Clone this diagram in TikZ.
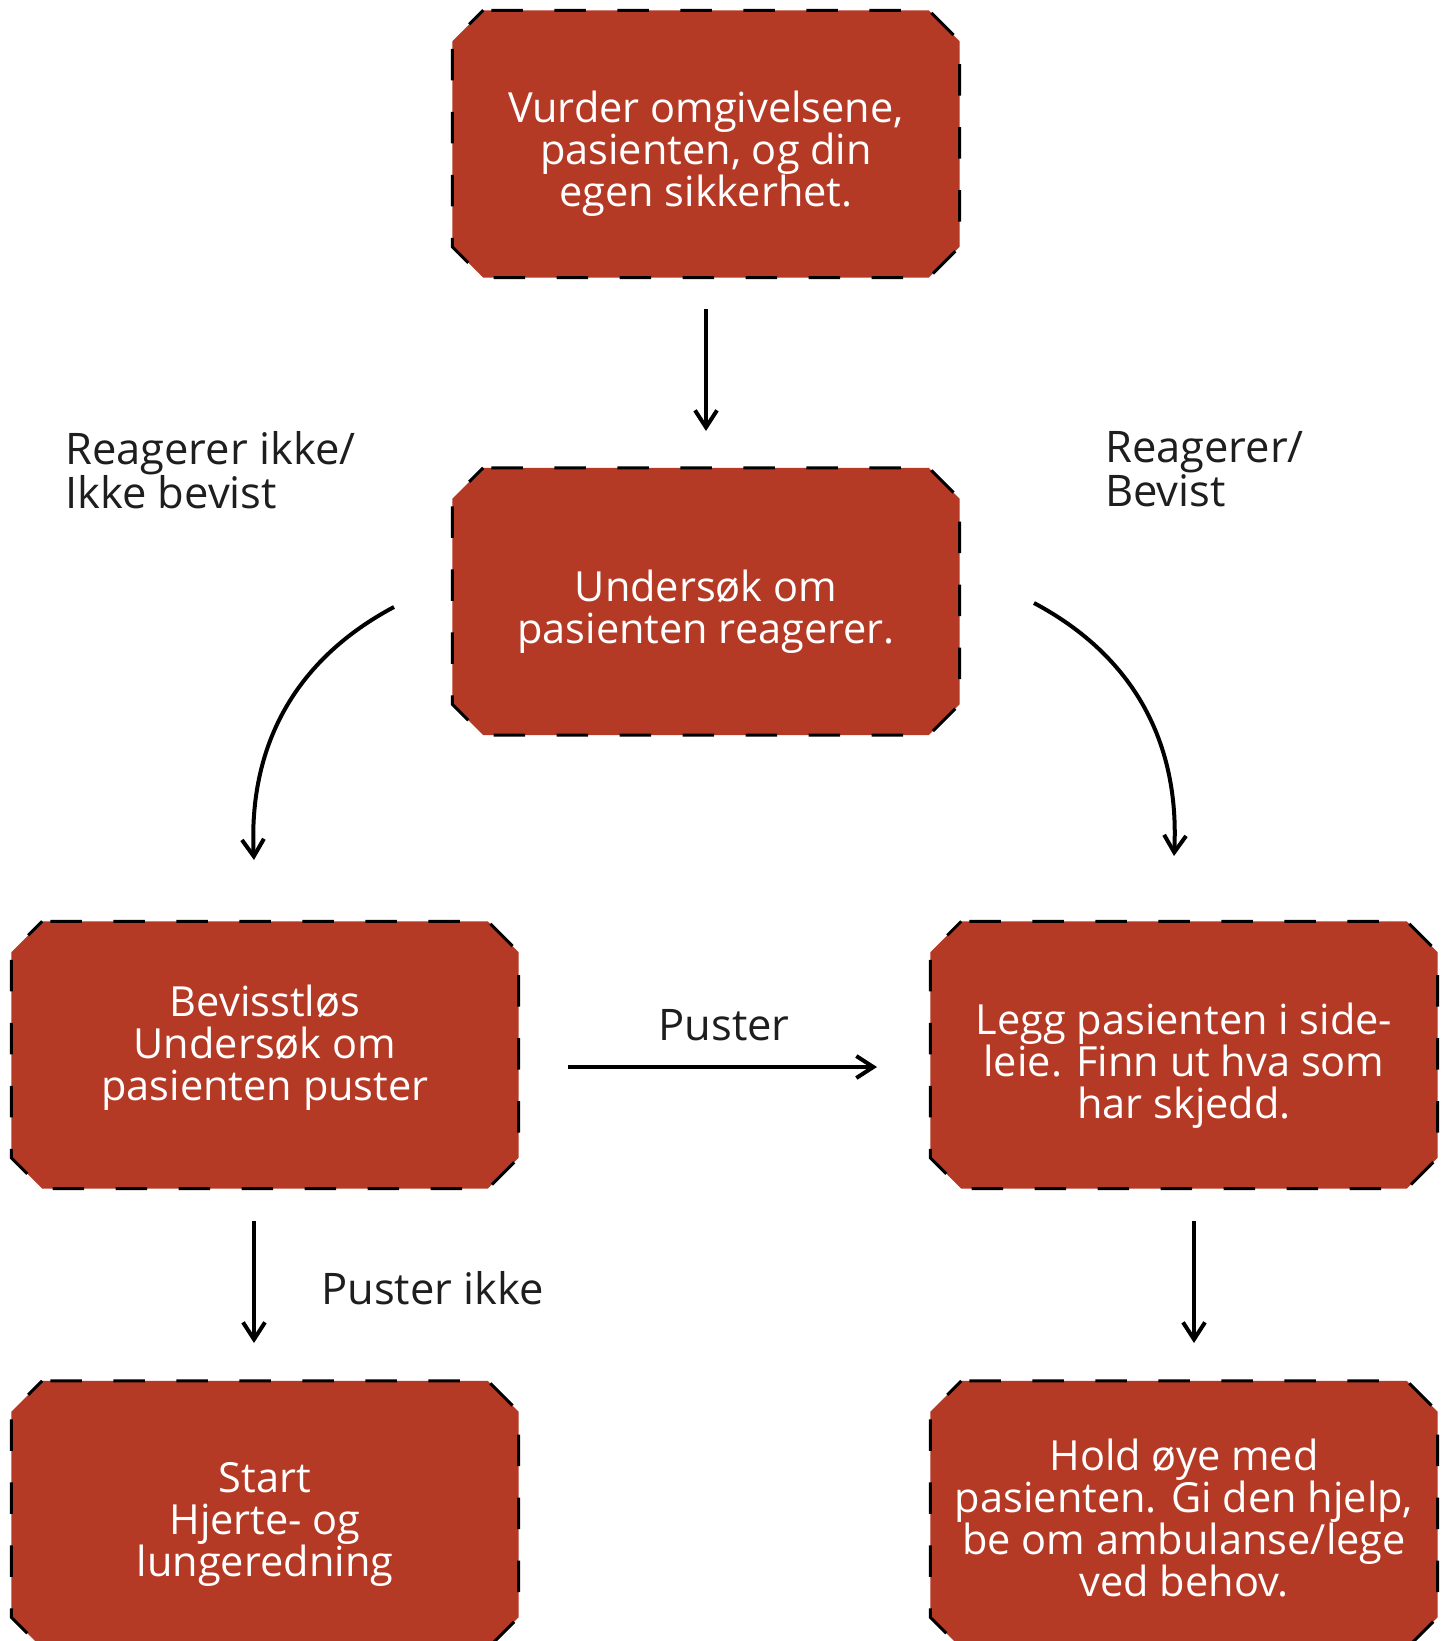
\documentclass[tikz,border=0pt]{standalone}
\usepackage{fontspec}
\setmainfont{Open Sans}
\usetikzlibrary{arrows.meta}
\definecolor{boxred}{RGB}{181,58,38}
\definecolor{ink}{RGB}{30,30,30}
\begin{document}
\begin{tikzpicture}[x=1pt,y=-1pt,
  frame/.style={rectangle, minimum width=507pt, minimum height=267pt, inner sep=0pt},
  boxedge/.style={fill=boxred, draw=black, line width=3pt, dash pattern=on 31.5pt off 31.5pt, dash phase=-8pt},
  boxtext/.style={text=white, align=center, inner sep=0pt, font=\fontsize{41.5}{42}\selectfont},
  conn/.style={draw=black, line width=4pt, -{Straight Barb[length=17pt,width=22pt,line width=4pt]}},
  lbl/.style={text=ink, inner sep=0pt, align=left, font=\fontsize{43.5}{42}\selectfont}]
\useasboundingbox (0,0) rectangle (1448,1641);
\clip (0,0) rectangle (1448,1641);
\fill[white] (0,0) rectangle (1448,1641);

\newcommand\chamferbox[1]{%
  \path[boxedge] ([xshift=31pt]#1.north west) -- ([xshift=-31pt]#1.north east)
    -- ([yshift=-31pt]#1.north east) -- ([yshift=31pt]#1.south east)
    -- ([xshift=-31pt]#1.south east) -- ([xshift=31pt]#1.south west)
    -- ([yshift=31pt]#1.south west) -- ([yshift=-31pt]#1.north west) -- cycle;}

\node[frame] (f1) at (706,144) {};
\node[frame] (f2) at (706,601.5) {};
\node[frame] (f3) at (265,1055) {};
\node[frame] (f4) at (1184,1055) {};
\node[frame] (f5) at (265,1514.5) {};
\node[frame] (f6) at (1184,1514.5) {};
\chamferbox{f1}\chamferbox{f2}\chamferbox{f3}\chamferbox{f4}\chamferbox{f5}\chamferbox{f6}

\node[boxtext] (b1) at ([yshift=-10pt]f1.center) {Vurder omgivelsene,\\pasienten, og din\\egen sikkerhet.};
\node[boxtext] (b2) at ([yshift=-10pt]f2.center) {Undersøk om\\pasienten reagerer.};
\node[boxtext] (b3) at ([yshift=7pt]f3.center) {Bevisstløs\\Undersøk om\\pasienten puster};
\node[boxtext] (b4) at ([yshift=-11pt]f4.center) {Legg pasienten i side-\\leie. Finn ut hva som\\har skjedd.};
\node[boxtext] (b5) at ([yshift=-10pt]f5.center) {Start\\Hjerte- og\\lungeredning};
\node[boxtext] (b6) at ([yshift=-4pt]f6.center) {Hold øye med\\pasienten. Gi den hjelp,\\be om ambulanse/lege\\ved behov.};

\coordinate (a1s) at (706,309);
\coordinate (a1e) at (706,431);
\coordinate (lcs) at (394,607);
\coordinate (lce) at (254,860);
\coordinate (rcs) at (1034,603);
\coordinate (rce) at (1174,856);
\coordinate (hs) at (568,1067);
\coordinate (he) at (877,1067);
\coordinate (lds) at (254,1221);
\coordinate (lde) at (254,1343);
\coordinate (rds) at (1194,1221);
\coordinate (rde) at (1194,1343);

\draw[conn] (a1s) -- (a1e);
\draw[conn] (lcs) to[out=208,in=93] (lce);
\draw[conn] (rcs) to[out=-28,in=87] (rce);
\draw[conn] (hs) -- (he);
\draw[conn] (lds) -- (lde);
\draw[conn] (rds) -- (rde);

\node[lbl, anchor=west] (l1) at (65,470) {Reagerer ikke/\\Ikke bevist};
\node[lbl, anchor=west] (l2) at (1105,469) {Reagerer/\\Bevist};
\node[lbl, anchor=base] (l3) at (724,1040) {Puster};
\node[lbl, anchor=base west] (l4) at (321,1304) {Puster ikke};
\end{tikzpicture}
\end{document}
